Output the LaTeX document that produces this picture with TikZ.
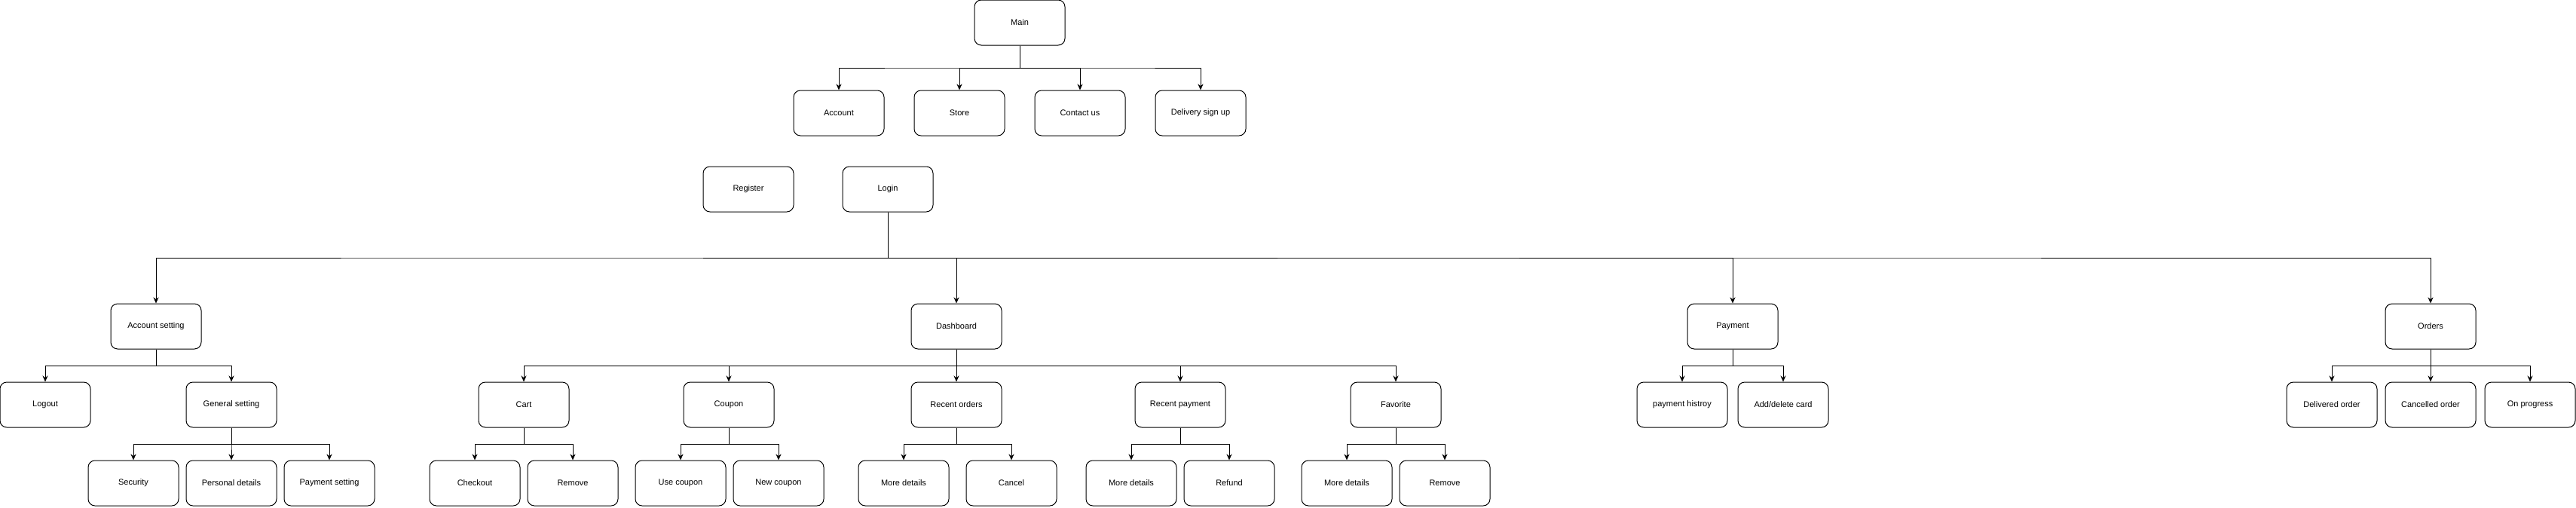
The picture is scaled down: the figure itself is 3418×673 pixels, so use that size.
\documentclass[tikz,border=0pt]{standalone}
\usepackage{fontspec}
\setmainfont{Liberation Sans}
\usetikzlibrary{calc,arrows.meta}
\tikzset{
    screen/.style={
    rectangle,rounded corners=9pt,draw=black,line width=1pt,
    minimum width=120pt,minimum height=60pt,inner sep=0pt,
    font=\fontsize{11}{13}\selectfont
    },
    elbow/.style={
    to path={(\tikztostart) |- ($(\tikztostart)!0.5!(\tikztotarget)$) -| (\tikztotarget)}
    },
    link/.style={
    line width=1pt,-{Stealth[length=8pt,width=7pt,inset=2.5pt]},elbow
    },
}
\begin{document}
\begin{tikzpicture}[x=1pt, y=-1pt]
   \fill[white] (0,0) rectangle (3418,673);
   \useasboundingbox (0,0) rectangle (3418,673);
   % top level
   \node[screen] (main) at (1353,30) {Main};
   \node[screen] (account) at (1113,150) {Account};
   \node[screen] (store) at (1273,150) {Store};
   \node[screen] (contact) at (1433,150) {Contact us};
   \node[screen] (delivery) at (1593,150) {Delivery sign up};
   \node[screen] (register) at (993,251) {Register};
   \node[screen] (login) at (1178,251) {Login};
   % after login
   \node[screen] (accset) at (207,433) {Account setting};
   \node[screen] (dashboard) at (1269,433) {Dashboard};
   \node[screen] (payment) at (2299,433) {Payment};
   \node[screen] (orders) at (3225,433) {Orders};
   % account setting
   \node[screen] (logout) at (60,537) {Logout};
   \node[screen] (general) at (307,537) {General setting};
   \node[screen] (security) at (177,641) {Security};
   \node[screen] (personal) at (307,641) {Personal details};
   \node[screen] (payset) at (437,641) {Payment setting};
   % dashboard
   \node[screen] (cart) at (695,537) {Cart};
   \node[screen] (coupon) at (967,537) {Coupon};
   \node[screen] (record) at (1269,537) {Recent orders};
   \node[screen] (recpay) at (1566,537) {Recent payment};
   \node[screen] (favorite) at (1852,537) {Favorite};
   \node[screen] (checkout) at (630,641) {Checkout};
   \node[screen] (cartrm) at (760,641) {Remove};
   \node[screen] (usecp) at (903,641) {Use coupon};
   \node[screen] (newcp) at (1033,641) {New coupon};
   \node[screen] (orddet) at (1199,641) {More details};
   \node[screen] (cancel) at (1342,641) {Cancel};
   \node[screen] (paydet) at (1501,641) {More details};
   \node[screen] (refund) at (1631,641) {Refund};
   \node[screen] (favdet) at (1787,641) {More details};
   \node[screen] (favrm) at (1917,641) {Remove};
   % payment and orders
   \node[screen] (payhist) at (2232,537) {payment histroy};
   \node[screen] (addcard) at (2366,537) {Add/delete card};
   \node[screen] (delivered) at (3094,537) {Delivered order};
   \node[screen] (cancelled) at (3225,537) {Cancelled order};
   \node[screen] (progress) at (3357,537) {On progress};

  \path[link]
    (main.south) edge (account.north)
                 edge (store.north)
                 edge (contact.north)
                 edge (delivery.north)
    (login.south) edge (accset.north)
                  edge (dashboard.north)
                  edge (payment.north)
                  edge (orders.north)
    (accset.south) edge (logout.north)
                   edge (general.north)
    (general.south) edge (security.north)
                    edge (personal.north)
                    edge (payset.north)
    (dashboard.south) edge (cart.north)
                      edge (coupon.north)
                      edge (record.north)
                      edge (recpay.north)
                      edge (favorite.north)
    (cart.south) edge (checkout.north)
                 edge (cartrm.north)
    (coupon.south) edge (usecp.north)
                   edge (newcp.north)
    (record.south) edge (orddet.north)
                   edge (cancel.north)
    (recpay.south) edge (paydet.north)
                   edge (refund.north)
    (favorite.south) edge (favdet.north)
                     edge (favrm.north)
    (payment.south) edge (payhist.north)
                    edge (addcard.north)
    (orders.south) edge (delivered.north)
                   edge (cancelled.north)
                   edge (progress.north);
\end{tikzpicture}
\end{document}
